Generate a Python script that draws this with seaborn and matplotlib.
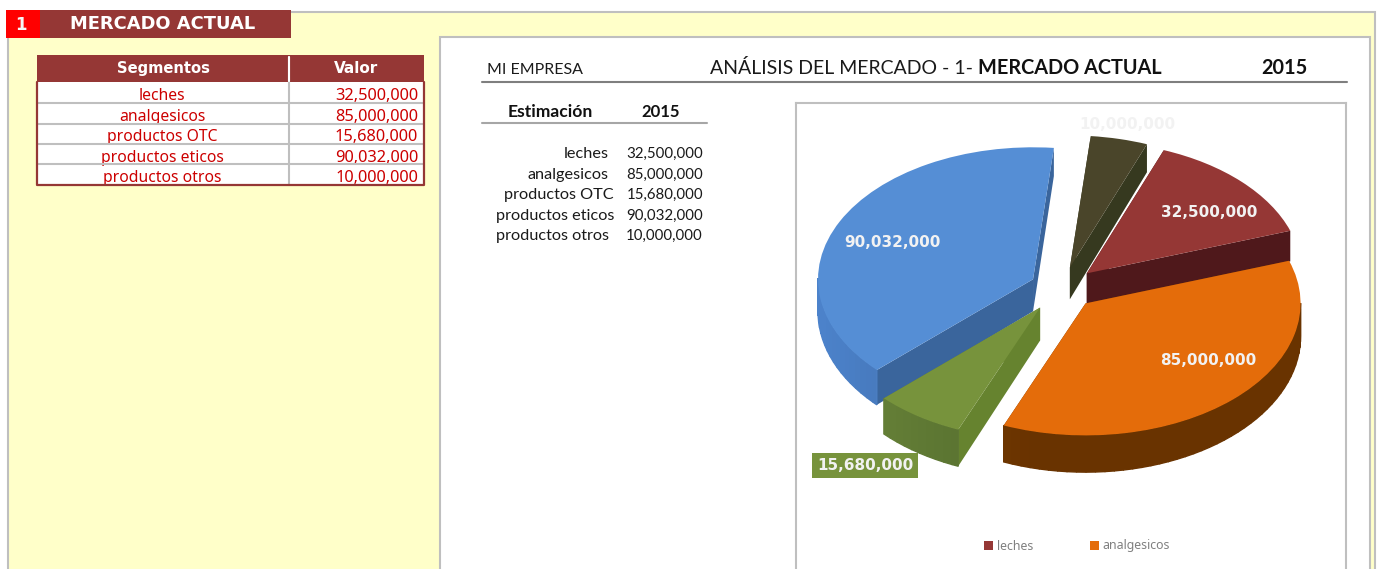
import numpy as np
import matplotlib
matplotlib.use("Agg")
import matplotlib.pyplot as plt
from matplotlib.patches import Rectangle
from matplotlib.colors import to_rgb
import seaborn as sns

segments = ["leches", "analgesicos", "productos OTC", "productos eticos", "productos otros"]
values = [32500000, 85000000, 15680000, 90032000, 10000000]
top_colors = ["#953735", "#E46C0A", "#77933C", "#558ED5", "#4A452A"]
radial_colors = ["#4F181B", "#6E3500", "#66832F", "#3A659C", "#36391F"]
arc_colors = ["#5E1E20", "#693300", "#587030", "#3F6CA8", "#36391F"]
paint_order = [4, 0, 3, 1, 2]
explode_amounts = [0.16, 0.16, 0.18, 0.15, 0.16]
label_colors = ["#F2F2F2"] * 5
year = "2015"

W, H = 1377, 569
sns.set_theme(style="white")
plt.rcParams["font.family"] = ["Noto Sans", "DejaVu Sans"]
palette = sns.color_palette(top_colors)
HEAD = ["DejaVu Sans"]
BODY = ["Lato", "DejaVu Sans"]

fig = plt.figure(figsize=(W / 100, H / 100), dpi=100, facecolor="white")
bg = fig.add_axes([0, 0, 1, 1], zorder=0)
bg.set_xlim(0, W)
bg.set_ylim(H, 0)
bg.axis("off")


def box(x0, y0, x1, y1, fc, ec="none", lw=0, z=1):
    r = Rectangle((x0, y0), x1 - x0, y1 - y0, fc=fc, ec=ec, lw=lw, zorder=z)
    bg.add_patch(r)
    return r


GRAY = "#BFBFBF"
DARK = "#953735"
RED = "#CC0000"
# Sheet panels
box(8, 12, 1375, 590, "#FFFFC9", GRAY, 1.5)
box(440, 37, 1370, 590, "white", GRAY, 1.5, z=1.1)
box(6, 10, 40, 38, "#FF0000", z=2)
box(40, 10, 291, 38, DARK, z=2)
bg.text(21, 24.5, "1", color="#F5F5F5", fontsize=12, fontweight="bold", family=HEAD,
        ha="center", va="center", zorder=3)
bg.text(163, 24, "MERCADO ACTUAL", color="white", fontsize=12.9, fontweight="bold", family=HEAD,
        ha="center", va="center", zorder=3)

# Left table
box(36.5, 55, 424, 82, DARK, z=2)
box(36.5, 82, 424, 185, "white", z=2)
bg.text(163, 68.5, "Segmentos", color="white", fontsize=10.6, fontweight="bold", family=HEAD,
        ha="center", va="center", zorder=3)
bg.text(356, 68.5, "Valor", color="white", fontsize=11, fontweight="bold", family=HEAD,
        ha="center", va="center", zorder=3)
row_bottoms = [103, 123.5, 144, 164, 185]
row_base = [100, 120.5, 141, 161.5, 182]
for name, v, yb, b in zip(segments, values, row_bottoms, row_base):
    clip = Rectangle((37, yb - 21), 387, 21, transform=bg.transData)
    t1 = bg.text(162, b, name, color=RED, fontsize=11.3, ha="center", va="baseline", zorder=3)
    t2 = bg.text(418, b, f"{v:,}", color=RED, fontsize=11.8, ha="right", va="baseline", zorder=3)
    t1.set_clip_path(clip)
    t2.set_clip_path(clip)
    if yb < 185:
        bg.plot([37, 424], [yb, yb], color=GRAY, lw=1.5, zorder=4, solid_capstyle="butt")
bg.plot([289, 289], [57, 185], color=GRAY, lw=1.5, zorder=4)
bg.plot([289, 289], [57, 81], color="white", lw=1.5, zorder=4.1)
bg.plot([36.5, 36.5, 424, 424], [82, 185, 185, 82], color=DARK, lw=1.6, zorder=5)

# Right panel header
bg.text(487, 74, "MI EMPRESA", color="#1A1A1A", fontsize=11.5, family=BODY, ha="left", va="baseline", zorder=3)
bg.text(710, 74, "ANÁLISIS DEL MERCADO - 1-", color="#1A1A1A", fontsize=14, family=BODY,
        ha="left", va="baseline", zorder=3)
bg.text(978, 74, "MERCADO ACTUAL", color="#111111", fontsize=14.3, fontweight="bold", family=BODY,
        ha="left", va="baseline", zorder=3)
bg.text(1307, 74, year, color="#111111", fontsize=14.3, fontweight="bold", family=BODY,
        ha="right", va="baseline", zorder=3)
bg.plot([482, 1347], [82, 82], color="#7F7F7F", lw=1.5, zorder=3)
bg.text(550, 117, "Estimación", color="#111111", fontsize=12.6, fontweight="bold", family=BODY,
        ha="center", va="baseline", zorder=3)
bg.text(661, 117, year, color="#111111", fontsize=12, fontweight="bold", family=BODY,
        ha="center", va="baseline", zorder=3)
bg.plot([482, 707], [123, 123], color="#A6A6A6", lw=1.5, zorder=3)
est_y = [158, 179, 199, 220, 240]
est_right = [609, 609, 614, 614, 609]
for name, v, y, xr in zip(segments, values, est_y, est_right):
    bg.text(xr, y, name, color="#1A1A1A", fontsize=11.7, family=BODY, ha="right", va="baseline", zorder=3)
    bg.text(703, y, f"{v:,}", color="#1A1A1A", fontsize=10.8, family=BODY, ha="right", va="baseline", zorder=3)

# Pie chart box (runs off the bottom of the picture)
CX, CY, RX, RY = 1062, 288, 215, 132
x0, x1, y0, y1 = 796, 1346, 103, 569
ax = fig.add_axes([x0 / W, 1 - y1 / H, (x1 - x0) / W, (y1 - y0) / H], zorder=1)
wedges, _ = ax.pie(values, explode=explode_amounts, startangle=69, counterclock=False,
                   colors=palette, radius=1, wedgeprops=dict(linewidth=0), frame=True)
ax.set_aspect("auto")
ax.set_xlim((x0 - CX) / RX, (x1 - CX) / RX)
ax.set_ylim((CY - y1) / RY, (CY - y0) / RY)
ax.set_xticks([])
ax.set_yticks([])
for s in ["top", "left", "right"]:
    ax.spines[s].set_color(GRAY)
    ax.spines[s].set_linewidth(1.5)
ax.spines["bottom"].set_visible(False)


def depth(y):
    return 0.245 - 0.03 * y


def shade(color, theta):
    """Lighter at the left of the front wall, darker to the right."""
    f = 1.0 + 0.28 * np.clip(-np.cos(np.radians(theta)) - 0.25, 0, 1)
    return tuple(np.clip(np.array(to_rgb(color)) * f, 0, 1))


for rank, i in enumerate(paint_order):
    w = wedges[i]
    z = 2 + rank
    cx, cy = w.center
    r = w.r
    for th in (w.theta1, w.theta2):
        ex, ey = cx + r * np.cos(np.radians(th)), cy + r * np.sin(np.radians(th))
        ax.fill([cx, ex, ex, cx], [cy, ey, ey - depth(ey), cy - depth(cy)],
                color=radial_colors[i], lw=0, zorder=z)
    steps = np.arange(w.theta1, w.theta2 + 2.5, 2.5)
    steps[-1] = w.theta2
    for a, b in zip(steps[:-1], steps[1:]):
        if np.sin(np.radians((a + b) / 2)) >= 0:
            continue  # the back of the rim faces away from the viewer
        xa, ya = cx + r * np.cos(np.radians(a)), cy + r * np.sin(np.radians(a))
        xb, yb = cx + r * np.cos(np.radians(b)), cy + r * np.sin(np.radians(b))
        col = shade(arc_colors[i], (a + b) / 2)
        ax.fill([xa, xb, xb, xa], [ya, yb, yb - depth(yb), ya - depth(ya)],
                facecolor=col, edgecolor=col, lw=1.0, zorder=z + 0.1)
    w.set_zorder(z + 0.5)

# Data labels
label_xy = [(1209, 212), (1208, 360), (865, 465.5), (892, 242), (1127, 124)]
for v, xy, c, i in zip(values, label_xy, label_colors, range(5)):
    box_props = dict(boxstyle="square,pad=0.3", fc=top_colors[2], ec="none") if i == 2 else None
    ax.text(xy[0], xy[1], f"{v:,}", transform=bg.transData, color=c, fontsize=11,
            fontweight="bold", family=HEAD, ha="center", va="center", zorder=20, bbox=box_props)

# Legend: only the first row is visible
handles = [Rectangle((0, 0), 1, 1, fc=top_colors[k], ec="none") for k in range(2)]
leg = ax.legend(handles, segments[:2], ncol=2, frameon=False, fontsize=8.9, labelcolor="#808080",
                handlelength=0.72, handleheight=0.72, handletextpad=0.3, columnspacing=4.6,
                loc="center", bbox_to_anchor=((1077 - x0) / (x1 - x0), 1 - (546 - y0) / (y1 - y0)))
leg.set_zorder(20)

fig.savefig("out.png", dpi=100, facecolor="white")
